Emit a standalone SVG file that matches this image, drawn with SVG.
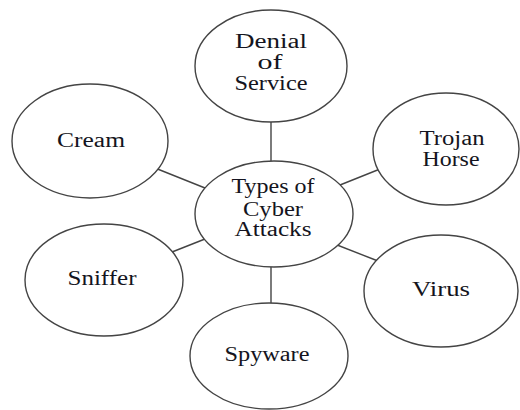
<svg xmlns="http://www.w3.org/2000/svg" width="520" height="410" viewBox="0 0 520 410">
<style>
.n{fill:#fff;stroke:#444;stroke-width:1.4}
.c{stroke:#444;stroke-width:1.4;fill:none}
.t{font-family:'Liberation Serif','Times New Roman',Times,serif;font-size:20px;fill:#141420;text-anchor:middle}
</style>
<rect width="520" height="410" fill="#fff"/>
<g id="connectors">
<line class="c" x1="271" y1="115" x2="271" y2="168"/>
<line class="c" x1="155" y1="168" x2="205" y2="188"/>
<line class="c" x1="340" y1="185" x2="380" y2="169"/>
<line class="c" x1="167" y1="254" x2="210" y2="237"/>
<line class="c" x1="332" y1="243" x2="378" y2="261"/>
<line class="c" x1="271" y1="262" x2="271" y2="308"/>
</g>
<g id="center">
<ellipse class="n" cx="274" cy="214" rx="79" ry="53"/>
<text class="t" x="273" y="193" textLength="83" lengthAdjust="spacingAndGlyphs">Types of</text>
<text class="t" x="273" y="216" textLength="60" lengthAdjust="spacingAndGlyphs">Cyber</text>
<text class="t" x="273" y="236" textLength="77" lengthAdjust="spacingAndGlyphs">Attacks</text>
</g>
<g id="denial">
<ellipse class="n" cx="271" cy="66" rx="76" ry="56"/>
<text class="t" x="271" y="48" textLength="72" lengthAdjust="spacingAndGlyphs">Denial</text>
<text class="t" x="270" y="69" textLength="25" lengthAdjust="spacingAndGlyphs">of</text>
<text class="t" x="271" y="90" textLength="73" lengthAdjust="spacingAndGlyphs">Service</text>
</g>
<g id="cream">
<ellipse class="n" cx="90" cy="141" rx="78" ry="57"/>
<text class="t" x="91" y="147" textLength="68" lengthAdjust="spacingAndGlyphs">Cream</text>
</g>
<g id="trojan">
<ellipse class="n" cx="446" cy="149" rx="73" ry="56"/>
<text class="t" x="452" y="145" textLength="65" lengthAdjust="spacingAndGlyphs">Trojan</text>
<text class="t" x="451" y="166" textLength="57" lengthAdjust="spacingAndGlyphs">Horse</text>
</g>
<g id="sniffer">
<ellipse class="n" cx="104" cy="280" rx="79" ry="56"/>
<text class="t" x="102" y="285" textLength="69" lengthAdjust="spacingAndGlyphs">Sniffer</text>
</g>
<g id="virus">
<ellipse class="n" cx="441" cy="291" rx="77" ry="56"/>
<text class="t" x="441" y="296" textLength="58" lengthAdjust="spacingAndGlyphs">Virus</text>
</g>
<g id="spyware">
<ellipse class="n" cx="269" cy="356" rx="79" ry="53"/>
<text class="t" x="267" y="361" textLength="85" lengthAdjust="spacingAndGlyphs">Spyware</text>
</g>
</svg>
